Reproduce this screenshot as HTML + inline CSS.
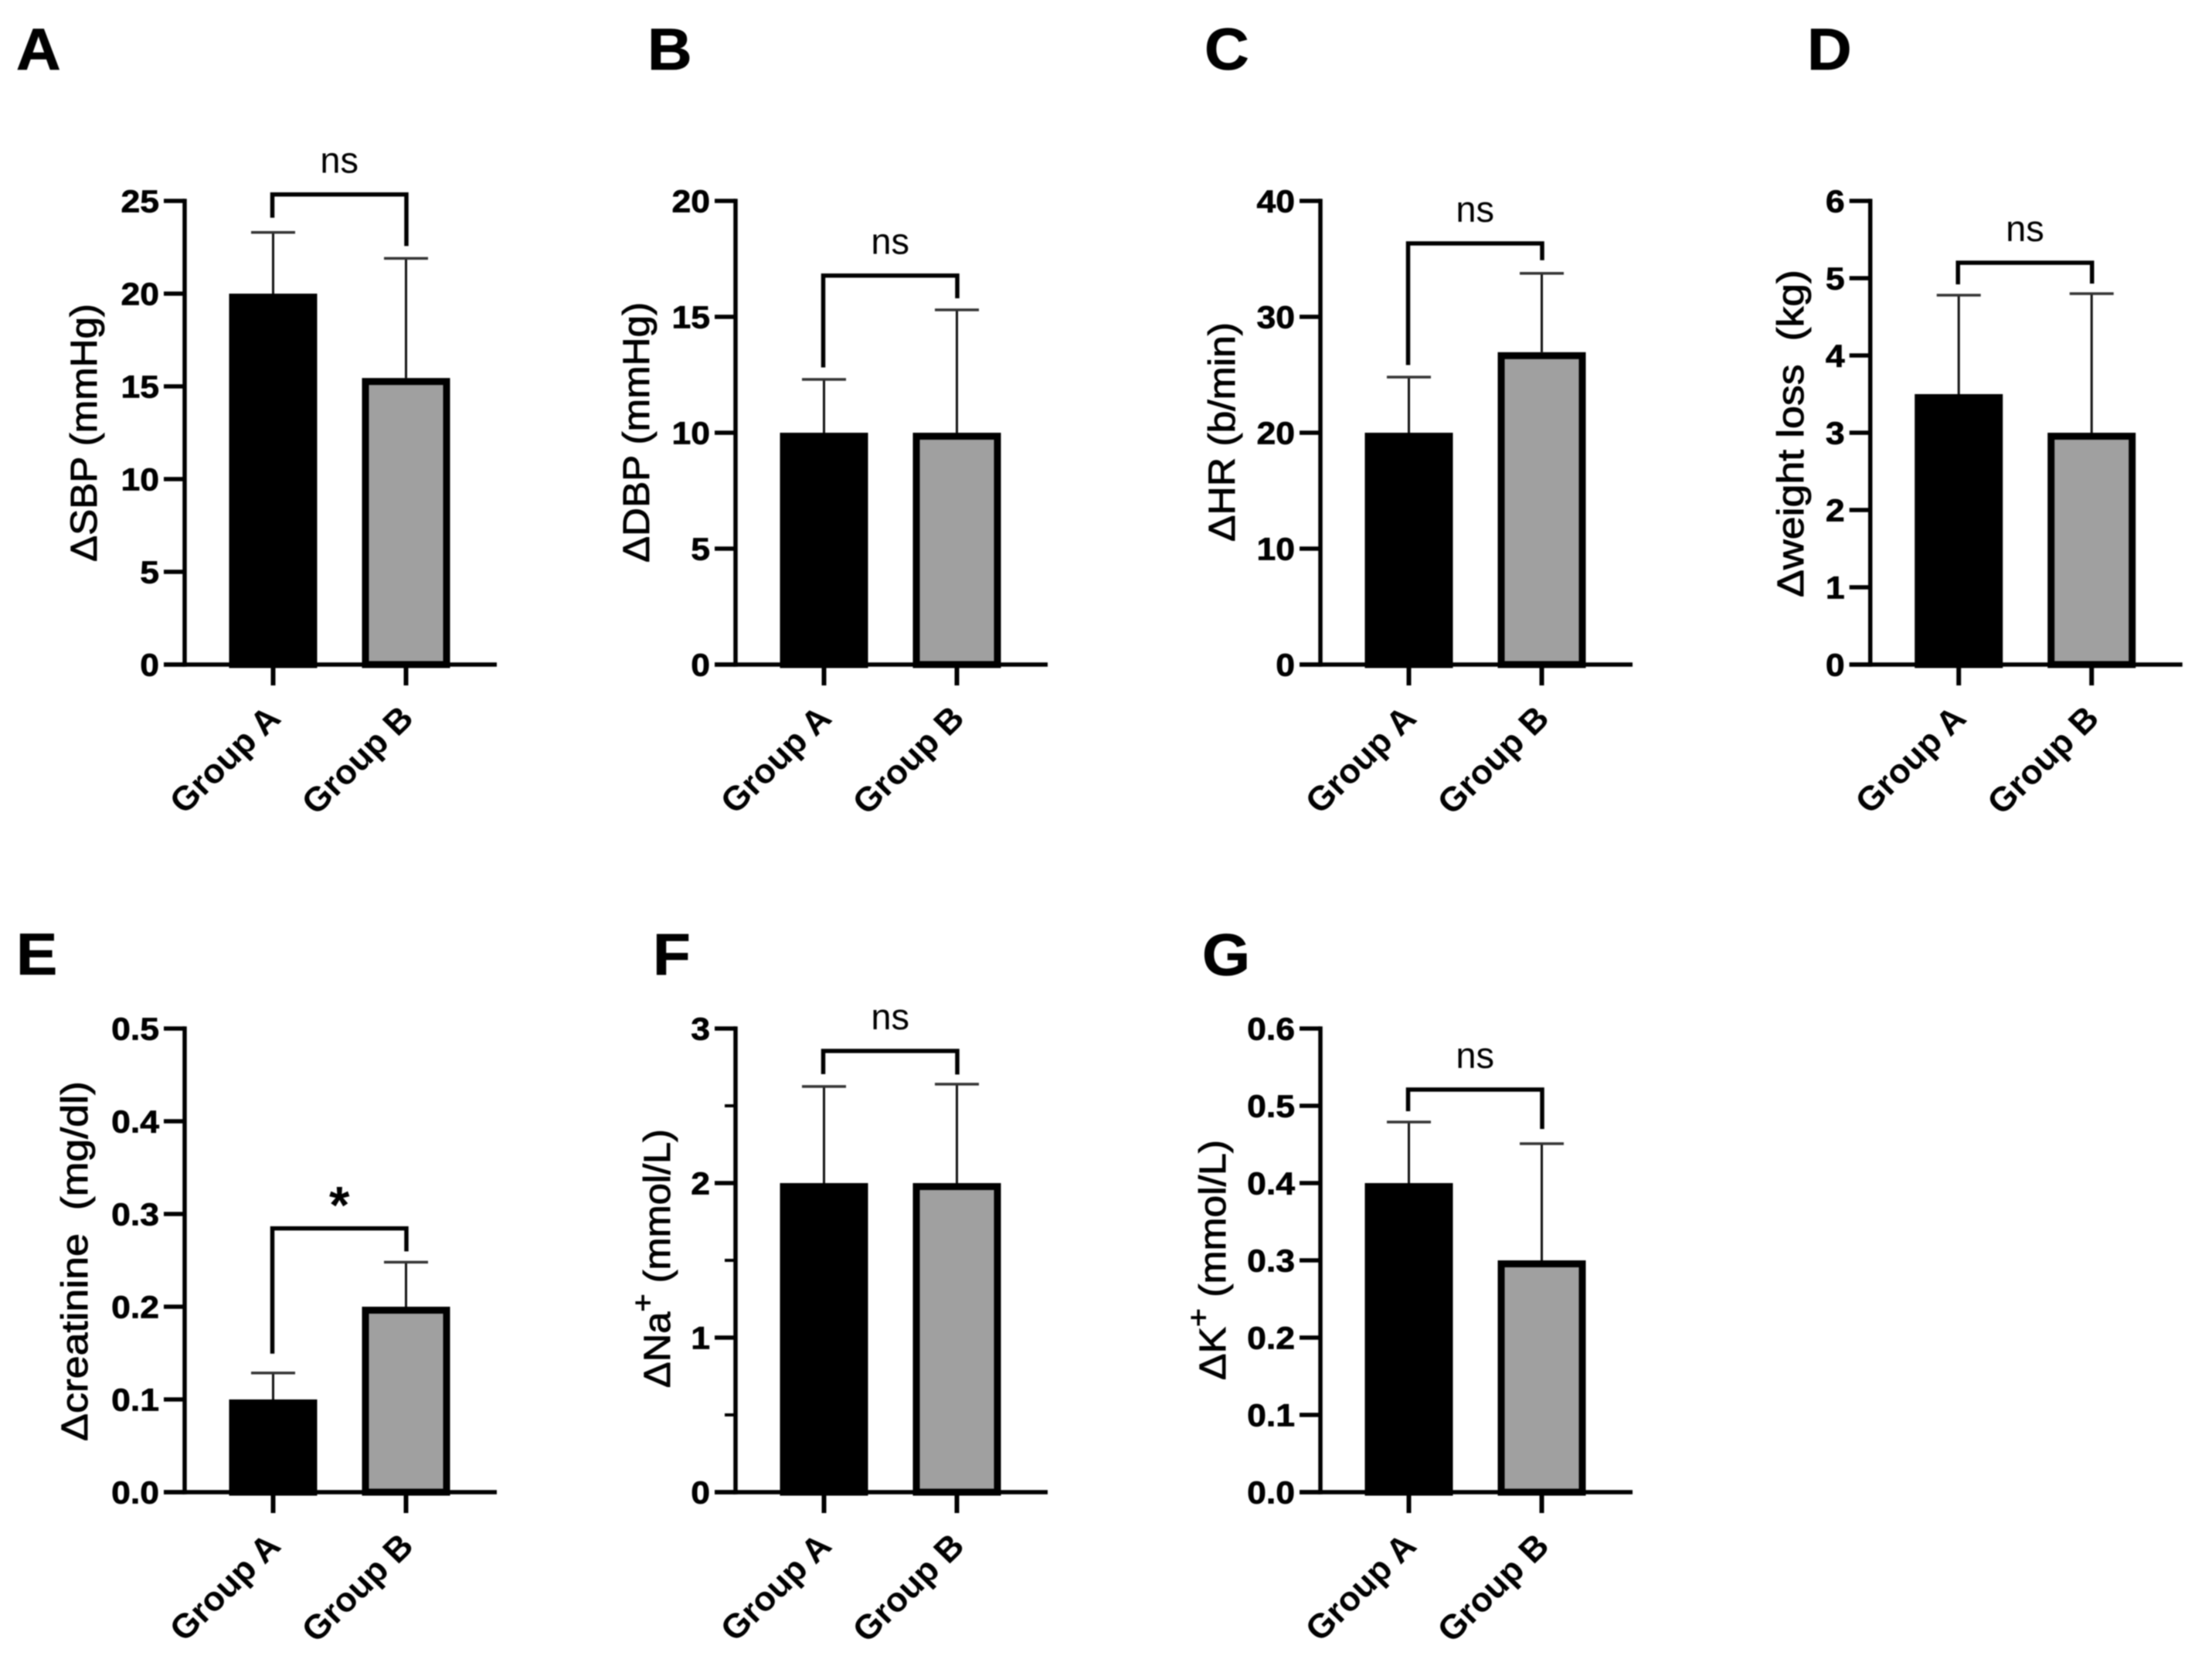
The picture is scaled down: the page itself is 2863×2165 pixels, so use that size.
<!DOCTYPE html>
<html lang="en">
<head>
<meta charset="utf-8">
<title>Change in clinical measures by group</title>
<style>
  html, body { margin: 0; padding: 0; background: #fff; }
  body { width: 2863px; height: 2165px; overflow: hidden; }
  svg { display: block; filter: blur(0.9px); }
  text { font-family: "Liberation Sans", Arial, sans-serif; fill: #000; white-space: pre; }
</style>
</head>
<body>
<svg id="figure" xmlns="http://www.w3.org/2000/svg" width="2863" height="2165" viewBox="0 0 2863 2165">
  <rect x="0" y="0" width="2863" height="2165" fill="#fff"></rect>
</svg>
<script>
// Chart data
const groups = ['Group A', 'Group B'];

const sbpTicks = ['0', '5', '10', '15', '20', '25'];
const sbpMeans = [20, 15.45];
const sbpErrors = [23.3, 21.9];
const sbpBracket = 25.35;

const dbpTicks = ['0', '5', '10', '15', '20'];
const dbpMeans = [10, 10];
const dbpErrors = [12.3, 15.3];
const dbpBracket = 16.78;

const hrTicks = ['0', '10', '20', '30', '40'];
const hrMeans = [20, 26.95];
const hrErrors = [24.8, 33.75];
const hrBracket = 36.33;

const weightTicks = ['0', '1', '2', '3', '4', '5', '6'];
const weightMeans = [3.5, 3];
const weightErrors = [4.78, 4.8];
const weightBracket = 5.2;

const creatinineTicks = ['0.0', '0.1', '0.2', '0.3', '0.4', '0.5'];
const creatinineMeans = [0.1, 0.2];
const creatinineErrors = [0.1285, 0.248];
const creatinineBracket = 0.2845;

const sodiumTicks = ['0', '1', '2', '3'];
const sodiumMinorTicks = [0.5, 1.5, 2.5];
const sodiumMeans = [2, 2];
const sodiumErrors = [2.625, 2.64];
const sodiumBracket = 2.855;

const potassiumTicks = ['0.0', '0.1', '0.2', '0.3', '0.4', '0.5', '0.6'];
const potassiumMeans = [0.4, 0.3];
const potassiumErrors = [0.479, 0.451];
const potassiumBracket = 0.521;

// Layout of each panel
const panels = [
  { key: 'sbp', letter: 'A', letterX: 21, letterY: 90, axisX: 239, zeroY: 860,
    ticks: sbpTicks, minor: [], means: sbpMeans, errors: sbpErrors, bracket: sbpBracket, gaps: [19, 16], mark: 'ns',
    title: ['\u0394SBP (mmHg)', '', ''], titleX: 125, titleY0: 727, titleY1: 393 },
  { key: 'dbp', letter: 'B', letterX: 838, letterY: 90, axisX: 952, zeroY: 860,
    ticks: dbpTicks, minor: [], means: dbpMeans, errors: dbpErrors, bracket: dbpBracket, gaps: [15.5, 15], mark: 'ns',
    title: ['\u0394DBP (mmHg)', '', ''], titleX: 840, titleY0: 728, titleY1: 391 },
  { key: 'hr', letter: 'C', letterX: 1559, letterY: 90, axisX: 1709, zeroY: 860,
    ticks: hrTicks, minor: [], means: hrMeans, errors: hrErrors, bracket: hrBracket, gaps: [15.6, 17], mark: 'ns',
    title: ['\u0394HR (b/min)', '', ''], titleX: 1598, titleY0: 701, titleY1: 417 },
  { key: 'weight', letter: 'D', letterX: 2339, letterY: 90, axisX: 2420.7, zeroY: 860,
    ticks: weightTicks, minor: [], means: weightMeans, errors: weightErrors, bracket: weightBracket, gaps: [14, 13], mark: 'ns',
    title: ['\u0394weight loss  (kg)', '', ''], titleX: 2334, titleY0: 773, titleY1: 349 },
  { key: 'creatinine', letter: 'E', letterX: 21, letterY: 1261, axisX: 239, zeroY: 1931,
    ticks: creatinineTicks, minor: [], means: creatinineMeans, errors: creatinineErrors, bracket: creatinineBracket, gaps: [25, 14], mark: '*',
    title: ['\u0394creatinine  (mg/dl)', '', ''], titleX: 113, titleY0: 1865, titleY1: 1399 },
  { key: 'sodium', letter: 'F', letterX: 845, letterY: 1261, axisX: 952, zeroY: 1931,
    ticks: sodiumTicks, minor: sodiumMinorTicks, means: sodiumMeans, errors: sodiumErrors, bracket: sodiumBracket, gaps: [16, 12.5], mark: 'ns',
    title: ['\u0394Na', '+', ' (mmol/L)'], titleX: 867, titleY0: 1796, titleY1: 1461 },
  { key: 'potassium', letter: 'G', letterX: 1556, letterY: 1262, axisX: 1709, zeroY: 1931,
    ticks: potassiumTicks, minor: [], means: potassiumMeans, errors: potassiumErrors, bracket: potassiumBracket, gaps: [14, 19], mark: 'ns',
    title: ['\u0394K', '+', ' (mmol/L)'], titleX: 1586, titleY0: 1786, titleY1: 1475 }
];

const SVG_NS = 'http://www.w3.org/2000/svg';
const PLOT_HEIGHT = 600;
const PLOT_WIDTH = 404;
const TICK_LENGTH = 27;
const MINOR_TICK_LENGTH = 14;
const BAR_WIDTH = 114;
const BAR_BORDER = 9;
const CAP_HALF = 28.5;
const figure = document.getElementById('figure');

function make(parent, tag, attrs, content) {
  const el = document.createElementNS(SVG_NS, tag);
  for (const k in attrs) el.setAttribute(k, attrs[k]);
  if (content !== undefined) el.textContent = content;
  parent.appendChild(el);
  return el;
}

function drawPanel(p) {
  const maxValue = parseFloat(p.ticks[p.ticks.length - 1]);
  const yScale = v => p.zeroY - (v / maxValue) * PLOT_HEIGHT;
  const xScale = i => p.axisX + 114.5 + 172 * i;

  const g = make(figure, 'g', {});
  
  

  const letter = make(g, 'text', {
    transform: 'translate(' + p.letterX + ',' + p.letterY + ') scale(1.05,1)',
    'font-size': 76, 'font-weight': 'bold', stroke: '#000', 'stroke-width': 0.8
  }, p.letter);
  
  

  // Error bars sit behind the bars
  p.means.forEach((m, i) => {
    const stem = make(g, 'line', { x1: xScale(i), x2: xScale(i), y1: yScale(m), y2: yScale(p.errors[i]), stroke: '#111', 'stroke-width': 3 });
    
    
    const cap = make(g, 'line', { x1: xScale(i) - CAP_HALF, x2: xScale(i) + CAP_HALF, y1: yScale(p.errors[i]), y2: yScale(p.errors[i]), stroke: '#333', 'stroke-width': 3.5 });
    
    
  });

  // Bars
  p.means.forEach((m, i) => {
    const bar = make(g, 'rect', {
      x: xScale(i) - BAR_WIDTH / 2 + BAR_BORDER / 2,
      y: yScale(m) + BAR_BORDER / 2,
      width: BAR_WIDTH - BAR_BORDER,
      height: p.zeroY - yScale(m) - BAR_BORDER / 2,
      fill: i === 0 ? '#000' : '#a0a0a0',
      stroke: '#000',
      'stroke-width': BAR_BORDER
    });
    
    
  });

  // Y axis
  const yAxis = make(g, 'line', { x1: p.axisX, x2: p.axisX, y1: yScale(maxValue) - 2.75, y2: p.zeroY + 2.75, stroke: '#000', 'stroke-width': 5.5 });
  
  

  p.ticks.forEach(label => {
    const v = parseFloat(label);
    const tick = make(g, 'line', { x1: p.axisX - TICK_LENGTH, x2: p.axisX, y1: yScale(v), y2: yScale(v), stroke: '#000', 'stroke-width': 5.5 });
    
    
    const text = make(g, 'text', {
      transform: 'translate(' + (p.axisX - 33) + ',' + (yScale(v) + 14.5) + ') scale(1.1,1)',
      'text-anchor': 'end', 'font-size': 40.5, 'font-weight': 'bold', stroke: '#000', 'stroke-width': 0.7
    }, label);
    
    
  });

  p.minor.forEach(v => {
    const tick = make(g, 'line', { x1: p.axisX - MINOR_TICK_LENGTH, x2: p.axisX, y1: yScale(v), y2: yScale(v), stroke: '#000', 'stroke-width': 4 });
    
    
  });

  // X axis
  const xAxis = make(g, 'line', { x1: p.axisX - TICK_LENGTH, x2: p.axisX + PLOT_WIDTH, y1: p.zeroY, y2: p.zeroY, stroke: '#000', 'stroke-width': 5.5 });
  
  

  groups.forEach((name, i) => {
    const tick = make(g, 'line', { x1: xScale(i), x2: xScale(i), y1: p.zeroY, y2: p.zeroY + TICK_LENGTH, stroke: '#000', 'stroke-width': 6 });
    
    
    const text = make(g, 'text', {
      transform: 'translate(' + (xScale(i) + 12) + ',' + (p.zeroY + 72) + ') scale(1.03,1) rotate(-45)',
      'text-anchor': 'end', 'font-size': 44, 'font-weight': 'bold'
    }, name);
    
    
  });

  // Y-axis title, fitted along its length
  const title = make(g, 'text', { 'font-size': 48, 'text-anchor': 'middle', stroke: '#000', 'stroke-width': 0.9 });
  
  
  make(title, 'tspan', {}, p.title[0]);
  if (p.title[1]) {
    make(title, 'tspan', { dy: -22, 'font-size': 38 }, p.title[1]);
    make(title, 'tspan', { dy: 22 }, p.title[2]);
  }
  const target = p.titleY0 - p.titleY1;
  const natural = title.getComputedTextLength() || target;
  title.setAttribute('transform', 'translate(' + p.titleX + ',' + ((p.titleY0 + p.titleY1) / 2) + ') rotate(-90) scale(' + (target / natural) + ',1)');

  // Significance bracket
  const by = yScale(p.bracket);
  const xa = xScale(0) - 1;
  const xb = xScale(1) + 0.5;
  const bracket = make(g, 'path', {
    d: 'M' + xa + ' ' + (yScale(p.errors[0]) - p.gaps[0]) + ' V' + by + ' H' + xb + ' V' + (yScale(p.errors[1]) - p.gaps[1]),
    fill: 'none', stroke: '#000', 'stroke-width': 5.5
  });
  
  

  const isStar = p.mark === '*';
  const mark = make(g, 'text', {
    x: (xa + xb) / 2, y: isStar ? by - 7 : by - 28,
    'text-anchor': 'middle', 'font-size': isStar ? 68 : 47, 'font-weight': isStar ? 'bold' : 'normal'
  }, p.mark);
  
  
}

panels.forEach(drawPanel);
</script>
</body>
</html>
